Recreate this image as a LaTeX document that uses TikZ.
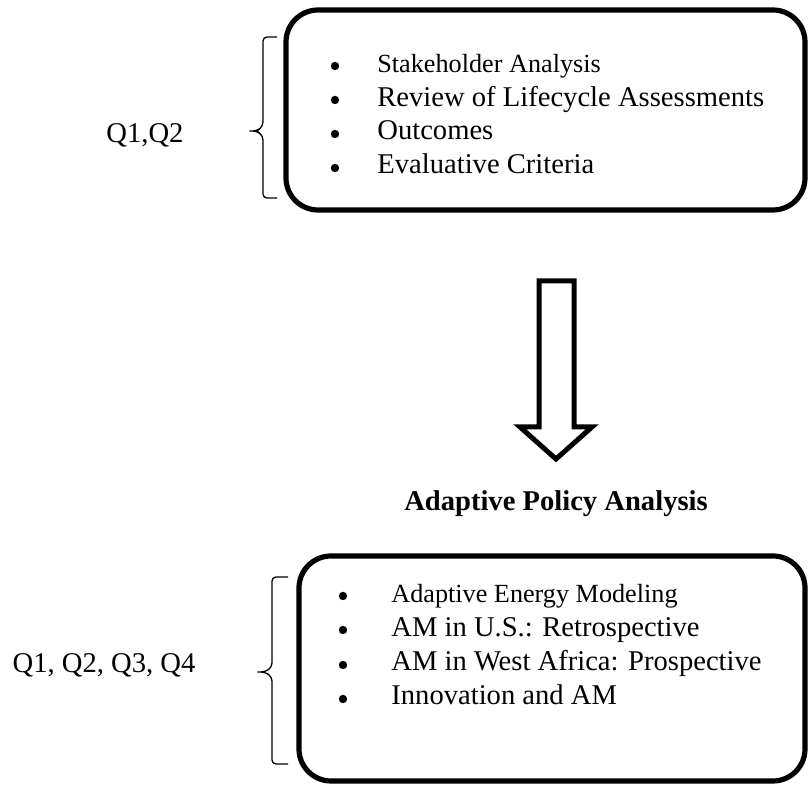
\documentclass[tikz,border=0pt]{standalone}
\usepackage{fontspec}
\setmainfont{Liberation Serif}
\usetikzlibrary{positioning}

\tikzset{
  panel/.style={draw, line width=2.6pt, rounded corners=16pt, inner sep=0pt},
  item/.style={anchor=base west, inner sep=0pt, font=\fontsize{14.3}{17}\selectfont},
  smallitem/.style={item, font=\fontsize{13.1}{16}\selectfont},
  dot/.style={circle, fill, inner sep=0pt, minimum size=4.2pt},
  qlabel/.style={anchor=base, inner sep=0pt, font=\fontsize{14.3}{17}\selectfont},
  curly/.style={line width=0.65pt, rounded corners=2pt},
}

\begin{document}
\begin{tikzpicture}[x=0.5pt,y=-0.5pt]
\useasboundingbox (0,0) rectangle (811,785);

\node[panel, minimum width=259.5pt, minimum height=100pt] (top) at (545.5,110) {};
\node[panel, minimum width=253pt, minimum height=112.5pt] (bottom) at (552,668.5) {};

\node[dot] (d1) at (335,66) {};
\node[dot] (d2) at (335,100) {};
\node[dot] (d3) at (335,134) {};
\node[dot] (d4) at (335,168) {};
\node[smallitem] (s1) at (377,73) {Stakeholder Analysis};
\node[item] (s2) at (377,107) {Review of Lifecycle Assessments};
\node[item] (s3) at (377,140) {Outcomes};
\node[item] (s4) at (377,174) {Evaluative Criteria};

\coordinate (qa1) at (277,37);
\coordinate (qa2) at (277,198);
\coordinate (qatip) at (247,131);
\draw[curly] (qa1) -- (263,37) -- (263,126) -- (257,131) -- (qatip)
  -- (257,131) -- (263,136) -- (263,198) -- (qa2);
\node[qlabel] (qa) at (145,143) {Q1,Q2};

\draw[line width=2.5pt] (539,281) -- (574,281) -- (574,427) -- (592,427)
  -- (556,459) -- (520,427) -- (539,427) -- cycle;

\node[anchor=base, font=\bfseries\fontsize{14.3}{17}\selectfont] (apa) at (556,511) {Adaptive Policy Analysis};

\node[dot] (e1) at (343,596) {};
\node[dot] (e2) at (343,630) {};
\node[dot] (e3) at (343,665) {};
\node[dot] (e4) at (343,699) {};
\node[smallitem] (m1) at (391,603) {Adaptive Energy Modeling};
\node[item] (m2) at (391,637) {AM in U.S.: Retrospective};
\node[item] (m3) at (391,671) {AM in West Africa: Prospective};
\node[item] (m4) at (391,705) {Innovation and AM};

\coordinate (qb1) at (288,577);
\coordinate (qb2) at (288,764);
\coordinate (qbtip) at (255,672);
\draw[curly] (qb1) -- (272,577) -- (272,667) -- (265,672) -- (qbtip)
  -- (265,672) -- (272,677) -- (272,764) -- (qb2);
\node[qlabel] (qb) at (104,673) {Q1, Q2, Q3, Q4};
\end{tikzpicture}
\end{document}
